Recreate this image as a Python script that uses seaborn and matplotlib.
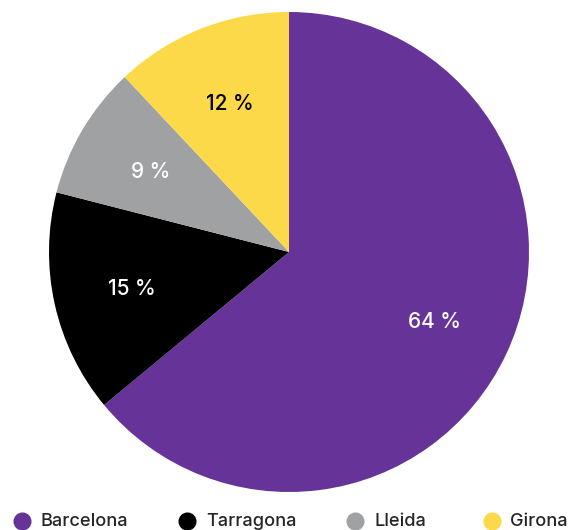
import matplotlib
matplotlib.use("Agg")
import matplotlib.pyplot as plt
from matplotlib.lines import Line2D
import seaborn as sns

categories = ["Barcelona", "Tarragona", "Lleida", "Girona"]
values = [64, 15, 9, 12]
colors = ["#663399", "#000000", "#9fa1a3", "#fbd948"]
label_colors = ["white", "white", "white", "black"]

sns.set_theme(style="white")
plt.rcParams['font.family'] = ['Inter', 'DejaVu Sans']

W, H = 569, 530
fig = plt.figure(figsize=(W/100, H/100), dpi=100)
ax = fig.add_axes([49/W, 38/H, 480/W, 480/H])
wedges, texts, autotexts = ax.pie(values, colors=colors, startangle=90, counterclock=False,
                                  autopct=lambda p: f"{p:.0f} %", pctdistance=0.67,
                                  wedgeprops=dict(linewidth=0),
                                  textprops=dict(fontsize=15, fontweight="medium"))
for t, c in zip(autotexts, label_colors):
    t.set_color(c)
    t.set_va("center_baseline")
ax.set_aspect("equal")
ax.set_xlim(-1, 1)
ax.set_ylim(-1, 1)

marker_x = [22, 187, 355, 492]
text_x = [40, 206, 374, 510]
ly = 1 - 521/H
for name, c, mx, tx in zip(categories, colors, marker_x, text_x):
    fig.add_artist(Line2D([mx/W], [ly], marker='o', linestyle='', markersize=13,
                          markerfacecolor=c, markeredgewidth=0, transform=fig.transFigure))
    fig.text(tx/W, ly, name, fontsize=13.1, fontweight="medium", va="center", ha="left")
fig.savefig("out.png", dpi=100)
